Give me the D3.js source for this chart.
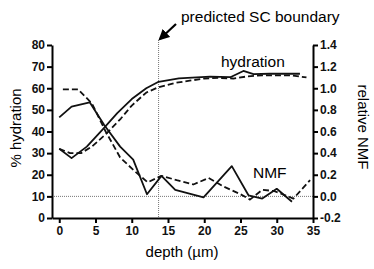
<!DOCTYPE html>
<html>
<head>
<meta charset="utf-8">
<script src="https://cdn.jsdelivr.net/npm/d3@7"></script>
<style>
body { margin: 0; background: #fff; }
text { font-family: Arial, "Liberation Sans", sans-serif; }
</style>
</head>
<body>
<div id="chart"></div>
<script>
// hydration (% , left axis)
var hydDepthSolid = [0, 1.7, 3.8, 6, 8, 10, 12, 13.7, 16.5, 20.8, 23.6, 25.4, 26.8, 29, 31, 33.2];
var hydSolid      = [32, 27.7, 33, 41, 48.5, 55, 60, 63, 64.6, 65.4, 65.1, 68, 66.5, 66.7, 66.7, 66.7];
var hydDepthDash  = [0, 1.5, 3, 4.5, 6.5, 8.5, 10, 12, 13.7, 16, 18, 20, 22, 24, 26, 28, 30, 32, 34.1];
var hydDash       = [32, 30, 30, 33, 39, 46, 52, 58, 60.5, 62.5, 63.5, 64.5, 64.8, 64.5, 65.5, 66, 66, 66, 65];

// relative NMF (right axis)
var nmfDepthSolid = [0, 1.7, 4.2, 6.2, 8.4, 10.2, 12.1, 14.1, 16, 19.9, 23.8, 26.1, 28, 30, 32.1];
var nmfSolid      = [0.73, 0.83, 0.87, 0.66, 0.46, 0.34, 0.02, 0.19, 0.06, -0.01, 0.28, 0.01, -0.02, 0.07, -0.05];
var nmfDepthDash  = [0.5, 2.6, 4.5, 6.4, 8.4, 10.3, 12.2, 14.1, 16.2, 18.5, 20.6, 22.7, 25, 26.3, 28, 29.6, 32.3, 34.6];
var nmfDash       = [0.99, 0.99, 0.86, 0.6, 0.36, 0.24, 0.13, 0.19, 0.15, 0.11, 0.17, 0.09, 0.02, -0.03, 0.06, 0.05, -0.02, 0.15];

var xTicks = [0, 5, 10, 15, 20, 25, 30, 35];
var yLeftTicks = [0, 10, 20, 30, 40, 50, 60, 70, 80];
var yRightTicks = [-0.2, 0, 0.2, 0.4, 0.6, 0.8, 1.0, 1.2, 1.4];
var boundaryDepth = 13.7;

var width = 374, height = 269;
var svg = d3.select("#chart").append("svg")
  .attr("width", width).attr("height", height);

var x = d3.scaleLinear().domain([-1, 35]).range([52, 313]);
var yL = d3.scaleLinear().domain([0, 80]).range([218, 45]);
var yR = d3.scaleLinear().domain([-0.2, 1.4]).range([218, 45]);

// reference dotted lines
svg.append("line")
  .attr("x1", x(-1)).attr("x2", x(35))
  .attr("y1", yL(10)).attr("y2", yL(10))
  .attr("stroke", "#777").attr("stroke-width", 1).attr("stroke-dasharray", "1,1");
svg.append("line")
  .attr("x1", x(boundaryDepth)).attr("x2", x(boundaryDepth))
  .attr("y1", 40).attr("y2", yL(0))
  .attr("stroke", "#777").attr("stroke-width", 1).attr("stroke-dasharray", "1,1");

function drawLine(depths, vals, yScale, dashed) {
  var pts = depths.map(function (d, i) { return [d, vals[i]]; });
  var line = d3.line()
    .x(function (d) { return x(d[0]); })
    .y(function (d) { return yScale(d[1]); });
  svg.append("path")
    .datum(pts)
    .attr("d", line)
    .attr("fill", "none")
    .attr("stroke", "#111")
    .attr("stroke-width", 1.8)
    .attr("stroke-linejoin", "round")
    .attr("stroke-dasharray", dashed ? "6,3" : null);
}

drawLine(hydDepthDash, hydDash, yL, true);
drawLine(hydDepthSolid, hydSolid, yL, false);
drawLine(nmfDepthDash, nmfDash, yR, true);
drawLine(nmfDepthSolid, nmfSolid, yR, false);

// axes
var xAxis = d3.axisBottom(x).tickValues(xTicks).tickSize(5).tickPadding(3);
var yAxisL = d3.axisLeft(yL).tickValues(yLeftTicks).tickSize(5).tickPadding(2);
var yAxisR = d3.axisRight(yR).tickValues(yRightTicks).tickSize(5).tickPadding(2)
  .tickFormat(d3.format(".1f"));

function styleAxis(g) {
  g.select(".domain").attr("stroke", "#000").attr("stroke-width", 2);
  g.selectAll(".tick line").attr("stroke", "#000").attr("stroke-width", 2);
  g.selectAll(".tick text")
    .attr("fill", "#111")
    .style("font-size", "12px")
    .style("font-weight", "bold")
    .style("font-family", "Arial, 'Liberation Sans', sans-serif");
}

svg.append("g").attr("transform", "translate(0," + yL(0) + ")")
  .call(xAxis.tickSizeOuter(0)).call(styleAxis);
svg.append("g").attr("transform", "translate(" + x(-1) + ",0)")
  .call(yAxisL.tickSizeOuter(0)).call(styleAxis);
svg.append("g").attr("transform", "translate(" + x(35) + ",0)")
  .call(yAxisR.tickSizeOuter(0)).call(styleAxis);

svg.selectAll(".tick text").filter(function (d) { return d === -0.2; })
  .text("-0.2");

// axis titles
svg.append("text")
  .attr("x", 182).attr("y", 257)
  .attr("text-anchor", "middle")
  .style("font-size", "15px")
  .text("depth (\u00b5m)");

svg.append("text")
  .attr("transform", "translate(21,128) rotate(-90)")
  .attr("text-anchor", "middle")
  .style("font-size", "15px")
  .text("% hydration");

svg.append("text")
  .attr("transform", "translate(358,127) rotate(90)")
  .attr("text-anchor", "middle")
  .style("font-size", "15px")
  .text("relative NMF");

// annotations
svg.append("text").attr("x", 221).attr("y", 67)
  .style("font-size", "15.5px").text("hydration");
svg.append("text").attr("x", 253).attr("y", 178)
  .style("font-size", "15.5px").text("NMF");
svg.append("text").attr("x", 181).attr("y", 22)
  .style("font-size", "15.5px").text("predicted SC boundary");

// arrow
svg.append("defs").append("marker")
  .attr("id", "arrowhead")
  .attr("viewBox", "0 0 10 10")
  .attr("refX", 8).attr("refY", 5)
  .attr("markerWidth", 5).attr("markerHeight", 5)
  .attr("orient", "auto")
  .append("path").attr("d", "M0,0 L10,5 L0,10 z").attr("fill", "#000");

svg.append("line")
  .attr("x1", 176).attr("y1", 24)
  .attr("x2", 160).attr("y2", 39)
  .attr("stroke", "#000").attr("stroke-width", 2.2)
  .attr("marker-end", "url(#arrowhead)");
</script>
</body>
</html>
